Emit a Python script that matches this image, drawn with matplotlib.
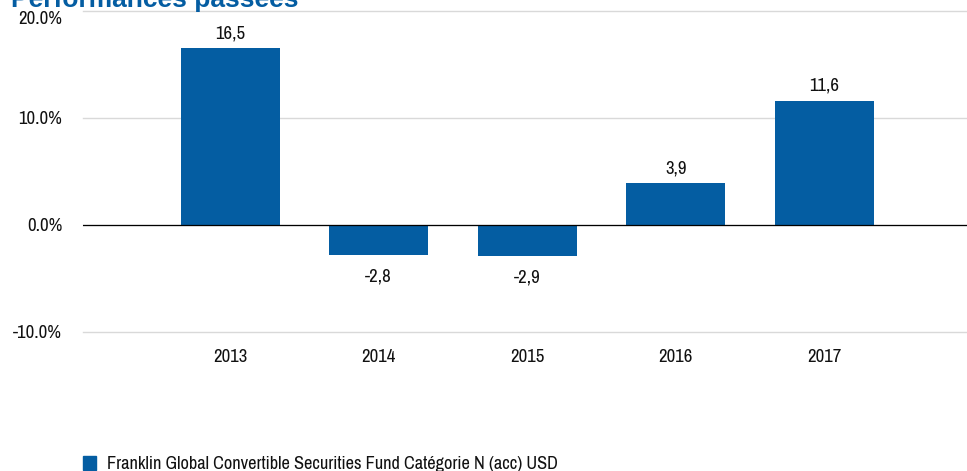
import matplotlib
matplotlib.use('Agg')
import matplotlib.pyplot as plt
from matplotlib.patches import Patch

plt.rcParams['font.family'] = ['Archivo Narrow', 'Liberation Sans', 'DejaVu Sans']

years = ['2013', '2014', '2015', '2016', '2017']
values = [16.5, -2.8, -2.9, 3.9, 11.6]
series_name = 'Franklin Global Convertible Securities Fund Catégorie N (acc) USD'
yticks = [-10, 0, 10, 20]

blue = '#045DA2'
fs = 13.5

fig = plt.figure(figsize=(9.67, 4.71), dpi=100)
ax = fig.add_axes([83 / 967, 1 - 332 / 471, 1 - 83 / 967, (332 - 11) / 471])

x = range(len(years))
ax.bar(x, values, width=0.667, color=blue, zorder=3)

# value labels above / below bars, comma decimals
for xi, v in zip(x, values):
    lbl = f'{v:.1f}'.replace('.', ',')
    if v >= 0:
        ax.annotate(lbl, (xi, v), xytext=(0, 5), textcoords='offset points',
                    ha='center', va='bottom', fontsize=fs, color='#111111')
    else:
        ax.annotate(lbl, (xi, v), xytext=(0, -10), textcoords='offset points',
                    ha='center', va='top', fontsize=fs, color='#111111')

ax.set_xlim(-0.99, 4.96)
ax.set_ylim(-10, 20)
ax.set_yticks(yticks)
ax.set_yticklabels([f'{t:.1f}%' for t in yticks])
ax.set_xticks(list(x))
ax.set_xticklabels(years)
ax.tick_params(axis='both', length=0, labelsize=fs, colors='#111111')
ax.tick_params(axis='y', pad=15)
ax.tick_params(axis='x', pad=12)
ax.get_yticklabels()[-1].set_va('top')

for s in ax.spines.values():
    s.set_visible(False)
ax.grid(axis='y', color='#d9d9d9', linewidth=1, zorder=0)
for gl in ax.get_ygridlines():
    gl.set_clip_on(False)
ax.axhline(0, color='black', linewidth=0.9, zorder=4)
ax.set_facecolor('none')

fig.text(0.011, 1 - 7 / 471, 'Performances passées', color=blue,
         fontsize=19, fontweight='bold', va='baseline', ha='left',
         family=['Liberation Sans', 'DejaVu Sans'])

fig.legend(handles=[Patch(color=blue, label=series_name)],
           loc='lower left', bbox_to_anchor=(66 / 967, -0.038),
           frameon=False, fontsize=13.2, handlelength=0.75, handleheight=0.75,
           handletextpad=0.6, labelcolor='#111111')

fig.savefig('out.png', dpi=100, facecolor='white')
